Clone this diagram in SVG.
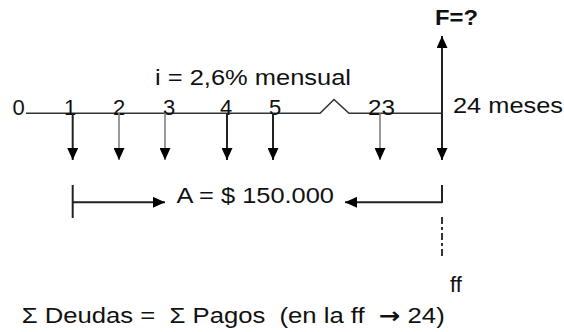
<svg xmlns="http://www.w3.org/2000/svg" width="564" height="332" viewBox="0 0 564 332">
<style>
.t{font-family:"Liberation Sans",Arial,sans-serif;fill:#111;font-size:22px}
.b{font-weight:bold}
.ln{stroke:#333;stroke-width:1.6;fill:none}
.dk{stroke:#222;stroke-width:2;fill:none}
.gr{stroke:#808080;stroke-width:1.6;fill:none}
</style>
<defs>
<marker id="ah" viewBox="0 0 12 11" refX="12" refY="5.5" markerWidth="12" markerHeight="11" markerUnits="userSpaceOnUse" orient="auto">
<path d="M0,0 L12,5.5 L0,11 Z" fill="#000"/>
</marker>
</defs>
<rect width="564" height="332" fill="#fff"/>
<g id="timeline">
<path class="ln" d="M26,113.3 H320 L334,99.5 L349,113.3 H442"/>
<text class="t" x="12.5" y="114.5">0</text>
<text class="t" x="70" y="114.5" text-anchor="middle">1</text>
<text class="t" x="119" y="114.5" text-anchor="middle">2</text>
<text class="t" x="169" y="114.5" text-anchor="middle">3</text>
<text class="t" x="226" y="114.5" text-anchor="middle">4</text>
<text class="t" x="275" y="114.5" text-anchor="middle">5</text>
<text class="t" x="368" y="114.5" textLength="27" lengthAdjust="spacingAndGlyphs">23</text>
<text class="t" x="453" y="112.5" textLength="110" lengthAdjust="spacingAndGlyphs">24 meses</text>
<text class="t" x="155" y="85" textLength="196" lengthAdjust="spacingAndGlyphs">i = 2,6% mensual</text>
</g>
<g id="connectors">
<line class="dk" x1="72.7" y1="113" x2="72.7" y2="160" marker-end="url(#ah)"/>
<line class="gr" x1="119" y1="113" x2="119" y2="160" marker-end="url(#ah)"/>
<line class="gr" x1="165" y1="113" x2="165" y2="160" marker-end="url(#ah)"/>
<line class="dk" x1="227" y1="113" x2="227" y2="160" marker-end="url(#ah)"/>
<line class="dk" x1="273" y1="113" x2="273" y2="160" marker-end="url(#ah)"/>
<line class="gr" x1="380" y1="113" x2="380" y2="160" marker-end="url(#ah)"/>
<line class="dk" x1="442" y1="113" x2="442" y2="160" marker-end="url(#ah)"/>
<line class="dk" x1="442" y1="114" x2="442" y2="36" marker-end="url(#ah)"/>
<line class="dk" x1="72.7" y1="185" x2="72.7" y2="218"/>
<line class="dk" x1="72.7" y1="202.3" x2="165" y2="202.3" marker-end="url(#ah)"/>
<line class="dk" x1="442" y1="185" x2="442" y2="203"/>
<line class="dk" x1="442" y1="202.3" x2="345" y2="202.3" marker-end="url(#ah)"/>
<line x1="442" y1="217" x2="442" y2="259" stroke="#333" stroke-width="2" stroke-dasharray="7 3 3 3"/>
</g>
<g id="F">
<text class="t b" x="435" y="25" font-size="18" textLength="43" lengthAdjust="spacingAndGlyphs">F=?</text>
</g>
<g id="A">
<text class="t" x="176.5" y="203" font-size="24" textLength="157.5" lengthAdjust="spacingAndGlyphs">A = $ 150.000</text>
</g>
<g id="ff">
<text class="t" x="450" y="292" font-size="23">ff</text>
</g>
<g id="equation">
<text class="t" x="21.7" y="322.5" font-size="24" xml:space="preserve" style="white-space:pre" textLength="423" lengthAdjust="spacingAndGlyphs">Σ Deudas =  Σ Pagos  (en la ff  <tspan font-weight="bold" font-family="'DejaVu Sans',sans-serif">→</tspan> 24)</text>
</g>
</svg>
